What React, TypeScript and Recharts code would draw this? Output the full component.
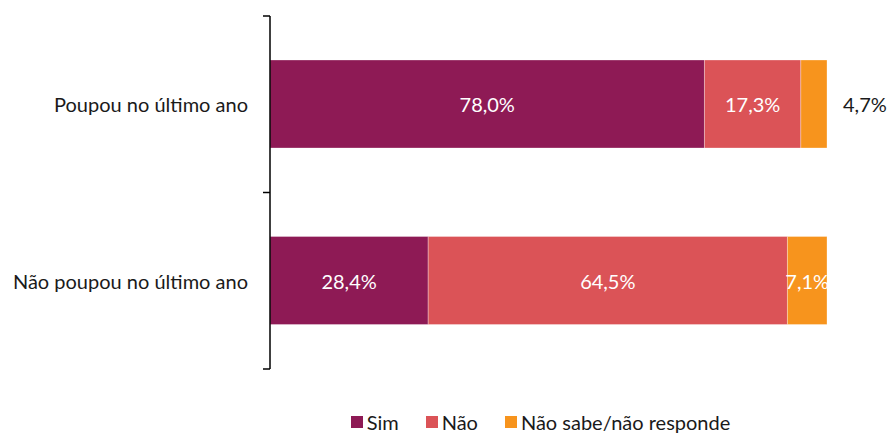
import { Bar, BarChart, LabelList, XAxis, YAxis } from 'recharts'

const CATEGORIES = ['Poupou no último ano', 'Não poupou no último ano']
const SIM = [78.0, 28.4]
const NAO = [17.3, 64.5]
const NS_NR = [4.7, 7.1]

const SERIES = [
  { key: 'sim', name: 'Sim', color: '#8E1A55' },
  { key: 'nao', name: 'Não', color: '#DB5357' },
  { key: 'nsnr', name: 'Não sabe/não responde', color: '#F7941D' },
]

const FONT = 'Lato, "Noto Sans", sans-serif'
const FONT_SIZE = 20
const INK = '#1a1a1a'

const rows = CATEGORIES.map((name, i) => ({
  cat: name,
  sim: SIM[i],
  nao: NAO[i],
  nsnr: NS_NR[i],
}))

const fmt = (v: number) => `${Number(v).toFixed(1).replace('.', ',')}%`

function renderInside(props: any) {
  const { x, y, width, height, value } = props
  return (
    <text
      x={Number(x) + Number(width) / 2}
      y={Number(y) + Number(height) / 2}
      textAnchor="middle"
      dominantBaseline="central"
      fill="#ffffff"
      fontFamily={FONT}
      fontSize={FONT_SIZE}
    >
      {fmt(value)}
    </text>
  )
}

// Small slices go outside the bar in dark text, as in the source.
function renderTail(props: any) {
  const { x, y, width, height, value } = props
  const outside = Number(value) < 5
  return (
    <text
      x={outside ? Number(x) + Number(width) + 16 : Number(x) + Number(width) / 2}
      y={Number(y) + Number(height) / 2}
      textAnchor={outside ? 'start' : 'middle'}
      dominantBaseline="central"
      fill={outside ? INK : '#ffffff'}
      fontFamily={FONT}
      fontSize={FONT_SIZE}
    >
      {fmt(value)}
    </text>
  )
}

// Category label plus the tick marks on the band edges, which is where the
// source puts them (Recharts would otherwise tick the band centre).
function CategoryTick(props: any) {
  const { x, y, payload, index, visibleTicksCount } = props
  const half = payload?.offset ?? 0
  const axisX = x + 22
  const last = index === (visibleTicksCount ?? 2) - 1
  return (
    <g>
      <line x1={axisX - 7} x2={axisX} y1={y - half} y2={y - half} stroke="#000" strokeWidth={1.5} />
      {last && (
        <line x1={axisX - 7} x2={axisX} y1={y + half} y2={y + half} stroke="#000" strokeWidth={1.5} />
      )}
      <text
        x={x}
        y={y}
        textAnchor="end"
        dominantBaseline="central"
        fill={INK}
        fontFamily={FONT}
        fontSize={FONT_SIZE}
      >
        {payload.value}
      </text>
    </g>
  )
}

function LegendBody() {
  return (
    <div
      style={{
        position: 'absolute',
        top: 410,
        left: 0,
        width: 887,
        height: 24,
        display: 'flex',
        justifyContent: 'center',
        gap: 27,
        fontFamily: FONT,
        fontSize: FONT_SIZE,
        lineHeight: '24px',
        color: INK,
        paddingLeft: 194,
        boxSizing: 'border-box',
      }}
    >
      {SERIES.map((s) => (
        <div key={s.key} style={{ display: 'flex', alignItems: 'center', gap: 4 }}>
          <span style={{ width: 12, height: 12, background: s.color, display: 'inline-block' }} />
          <span>{s.name}</span>
        </div>
      ))}
    </div>
  )
}

export default function App() {
  return (
    <div style={{ position: 'absolute', left: 0, top: 0, width: 887, height: 433, background: '#fff' }}>
      <BarChart
        width={887}
        height={433}
        data={rows}
        layout="vertical"
        margin={{ top: 16, right: 60, bottom: 64, left: 0 }}
        barSize={88}
      >
        <XAxis type="number" height={0} axisLine={false} tickLine={false} tick={false} />
        <YAxis
          type="category"
          dataKey="cat"
          width={270}
          axisLine={{ stroke: '#000', strokeWidth: 1.5 }}
          tickLine={false}
          tickSize={0}
          tickMargin={22}
          tick={<CategoryTick />}
        />
        {SERIES.map((s, i) => (
          <Bar
            key={s.key}
            dataKey={s.key}
            stackId="a"
            fill={s.color}
            stroke="#ffffff"
            strokeOpacity={0.3}
            strokeWidth={1}
            isAnimationActive={false}
          >
            <LabelList dataKey={s.key} content={i === 2 ? renderTail : renderInside} />
          </Bar>
        ))}
      </BarChart>
      <LegendBody />
    </div>
  )
}
